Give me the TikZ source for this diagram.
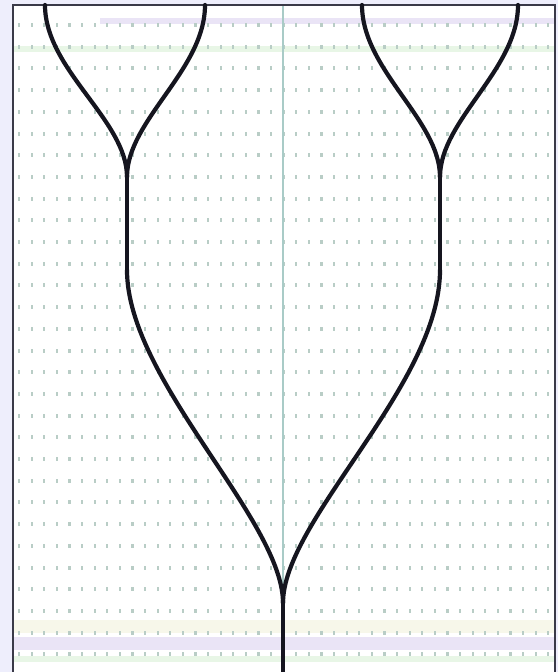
\documentclass[tikz,border=0pt]{standalone}
\definecolor{outerbg}{HTML}{EEEEFC}
\definecolor{dotcol}{HTML}{B9CDC6}
\definecolor{axiscol}{HTML}{A9CBC7}
\definecolor{framecol}{HTML}{3A3A48}
\definecolor{bandlav}{HTML}{EAE4F6}
\definecolor{bandgreen}{HTML}{E8F6E6}
\definecolor{bandyel}{HTML}{F7F7EA}
\definecolor{treecol}{HTML}{15151F}
\tikzset{
  branch/.style={line width=4.2pt, treecol, line cap=round},
  griddot/.style={fill=dotcol, draw=none},
}
\begin{document}
\begin{tikzpicture}[x=1pt,y=-1pt]
\useasboundingbox (0,0) rectangle (558,672);
% outer background
\fill[outerbg] (0,0) rectangle (558,672);
% inner panel
\fill[white] (13,5) rectangle (555,672);
% faint colour bands
\fill[bandgreen] (14,46) rectangle (554,52);
\fill[bandlav] (100,18) rectangle (554,24);
\fill[bandyel] (14,620) rectangle (554,633);
\fill[bandlav] (14,637) rectangle (554,650);
\fill[bandgreen] (14,656) rectangle (554,662);
% dotted grid
\foreach \k in {0,...,29}{
  \foreach \j in {0,...,42}{
    \fill[griddot] ({19+12.6*\j-1},{25+21.7*\k-2}) rectangle ++(2.2,4);
  }
}
% central axis
\draw[axiscol, line width=1.3pt] (283,5) -- (283,672);
% frame
\draw[framecol, line width=1.4pt] (13,672) -- (13,5) -- (555,5) -- (555,672);
% tree coordinates
\coordinate (root) at (283,672);
\coordinate (fork) at (283,603);
\coordinate (L) at (127,270);
\coordinate (Lfork) at (127,177);
\coordinate (R) at (440,270);
\coordinate (Rfork) at (440,177);
\coordinate (LL) at (45,5);
\coordinate (LR) at (205,5);
\coordinate (RL) at (362,5);
\coordinate (RR) at (518,5);
% trunk
\draw[branch] (root) -- (fork);
\draw[branch] (fork) .. controls (283,520) and (127,380) .. (L);
\draw[branch] (fork) .. controls (283,520) and (440,385) .. (R);
% stems
\draw[branch] (L) -- (Lfork);
\draw[branch] (R) -- (Rfork);
% upper branches
\draw[branch] (Lfork) .. controls (127,120) and (45,70) .. (LL);
\draw[branch] (Lfork) .. controls (127,120) and (205,70) .. (LR);
\draw[branch] (Rfork) .. controls (440,120) and (362,70) .. (RL);
\draw[branch] (Rfork) .. controls (440,120) and (518,70) .. (RR);
\end{tikzpicture}
\end{document}
